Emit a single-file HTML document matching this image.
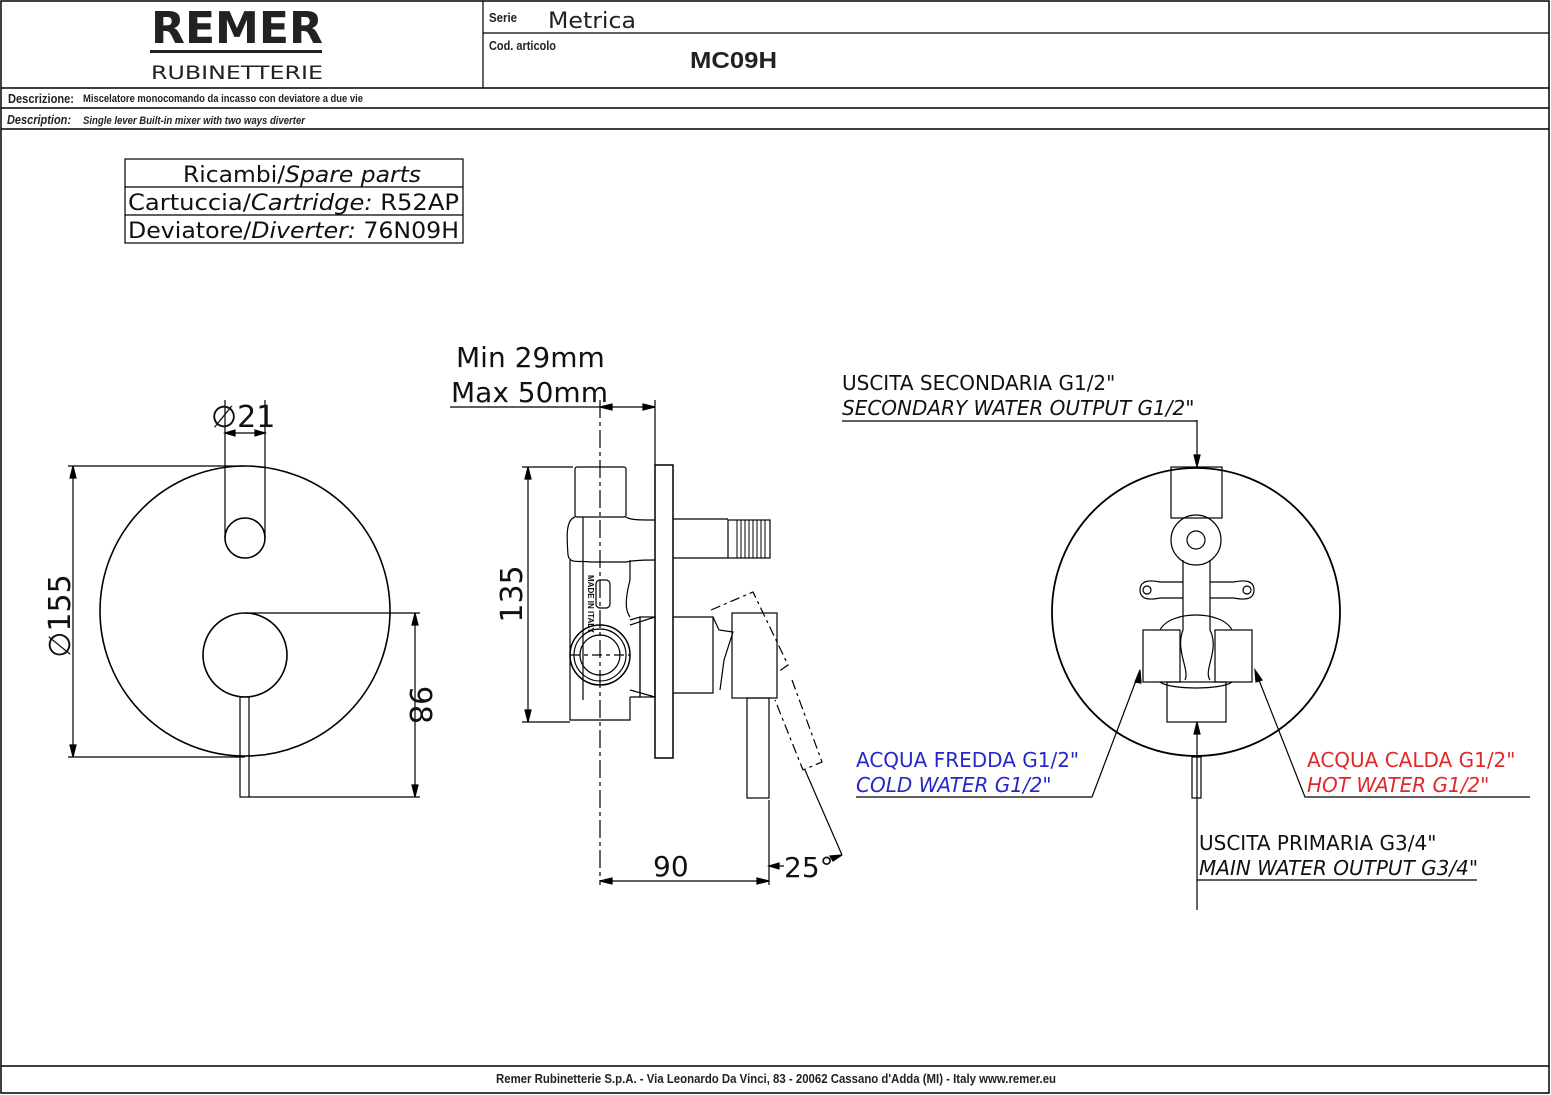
<!DOCTYPE html>
<html><head><meta charset="utf-8"><style>
html,body{margin:0;padding:0;background:#fff}
svg{display:block}
text{font-family:"Liberation Sans",sans-serif}
.n{font-family:"Liberation Sans Narrow","Liberation Sans",sans-serif;font-weight:bold}
.d{font-family:"DejaVu Sans","Liberation Sans",sans-serif}
</style></head><body>
<svg width="1551" height="1095" viewBox="0 0 1551 1095" xmlns="http://www.w3.org/2000/svg" fill="none" stroke="#000" stroke-width="1.2">
<rect x="1" y="1" width="1548" height="1092" stroke-width="1.5"/>
<line x1="483" y1="1" x2="483" y2="88"/>
<line x1="483" y1="33" x2="1549" y2="33"/>
<line x1="1" y1="88" x2="1549" y2="88" stroke-width="1.5"/>
<line x1="1" y1="108" x2="1549" y2="108" stroke-width="1.5"/>
<line x1="1" y1="129" x2="1549" y2="129" stroke-width="1.5"/>
<line x1="1" y1="1066" x2="1549" y2="1066" stroke-width="1.5"/>
<g fill="#222" stroke="none">
<text x="237" y="43" font-size="44" font-weight="bold" text-anchor="middle" textLength="172" lengthAdjust="spacingAndGlyphs" class="d">REMER</text>
<rect x="150" y="50" width="172" height="3"/>
<text x="237" y="79" font-size="19" text-anchor="middle" textLength="172" lengthAdjust="spacingAndGlyphs" class="d">RUBINETTERIE</text>
<text x="489" y="22" font-size="13" class="n" textLength="28" lengthAdjust="spacingAndGlyphs">Serie</text>
<text x="548" y="28" font-size="22" class="d" textLength="88" lengthAdjust="spacingAndGlyphs">Metrica</text>
<text x="489" y="50" font-size="13" class="n" textLength="67" lengthAdjust="spacingAndGlyphs">Cod. articolo</text>
<text x="690" y="68" font-size="23" font-weight="bold" textLength="87" lengthAdjust="spacingAndGlyphs">MC09H</text>
<text x="8" y="103" font-size="13" class="n" textLength="66" lengthAdjust="spacingAndGlyphs">Descrizione:</text>
<text x="83" y="102" font-size="11" class="n" textLength="280" lengthAdjust="spacingAndGlyphs">Miscelatore monocomando da incasso con deviatore a due vie</text>
<text x="7" y="124" font-size="13" class="n" font-style="italic" textLength="64" lengthAdjust="spacingAndGlyphs">Description:</text>
<text x="83" y="124" font-size="11" class="n" font-style="italic" textLength="222" lengthAdjust="spacingAndGlyphs">Single lever Built-in mixer with two ways diverter</text>
<text x="776" y="1083" font-size="13" class="n" text-anchor="middle" textLength="560" lengthAdjust="spacingAndGlyphs">Remer Rubinetterie S.p.A. - Via Leonardo Da Vinci, 83 - 20062 Cassano d'Adda (MI) - Italy www.remer.eu</text>
</g>
<rect x="125" y="159" width="338" height="84"/>
<line x1="125" y1="187" x2="463" y2="187"/>
<line x1="125" y1="215" x2="463" y2="215"/>
<g fill="#111" stroke="none" class="d" font-size="22">
<text x="183" y="182" class="d" textLength="238" lengthAdjust="spacingAndGlyphs">Ricambi/<tspan font-style="italic">Spare parts</tspan></text>
<text x="128" y="210" class="d" textLength="331" lengthAdjust="spacingAndGlyphs">Cartuccia/<tspan font-style="italic">Cartridge:</tspan> R52AP</text>
<text x="128" y="238" class="d" textLength="331" lengthAdjust="spacingAndGlyphs">Deviatore/<tspan font-style="italic">Diverter:</tspan>  76N09H</text>
</g>

<circle cx="245" cy="611" r="145" stroke-width="1.6"/>
<circle cx="245" cy="538" r="20" stroke-width="1.6"/>
<circle cx="245" cy="655" r="42" stroke-width="1.6"/>
<rect x="240" y="697" width="9" height="100"/>
<line x1="225" y1="400" x2="225" y2="538"/>
<line x1="265" y1="400" x2="265" y2="538"/>
<line x1="225" y1="433" x2="265" y2="433"/>
<path d="M225 433l10-3v6zM265 433l-10-3v6z" fill="#000"/>
<text x="211" y="427" font-size="30" fill="#111" stroke="none" class="d">∅21</text>
<line x1="68" y1="466" x2="245" y2="466"/>
<line x1="68" y1="757" x2="245" y2="757"/>
<line x1="73" y1="466" x2="73" y2="757"/>
<path d="M73 466l-3 12h6zM73 757l-3-12h6z" fill="#000"/>
<text transform="translate(70,616) rotate(-90)" font-size="30" fill="#111" stroke="none" text-anchor="middle" class="d">∅155</text>
<line x1="245" y1="613" x2="420" y2="613"/>
<line x1="249" y1="797" x2="420" y2="797"/>
<line x1="415" y1="613" x2="415" y2="797"/>
<path d="M415 613l-3 12h6zM415 797l-3-12h6z" fill="#000"/>
<text transform="translate(410,705) rotate(90)" font-size="30" fill="#111" stroke="none" text-anchor="middle" class="d">98</text>

<text x="456" y="367" font-size="28" fill="#111" stroke="none" class="d">Min 29mm</text>
<text x="451" y="402" font-size="28" fill="#111" stroke="none" class="d">Max 50mm</text>
<line x1="450" y1="407" x2="655" y2="407"/>
<path d="M600 407l12-3v6zM655 407l-12-3v6z" fill="#000"/>
<line x1="655" y1="400" x2="655" y2="465"/>
<line x1="600" y1="400" x2="600" y2="885" stroke-dasharray="18 4 4 4"/>
<line x1="570" y1="655" x2="630" y2="655" stroke-dasharray="10 4 4 4"/>
<rect x="655" y="465" width="18" height="293" stroke-width="1.5"/>
<rect x="575" y="467" width="51" height="50" rx="2"/>
<path d="M575 517 C565 520 567 540 568 555 C570 565 580 560 590 562 L626 562 C635 560 645 560 655 560 M626 517 C630 520 640 520 655 520"/>
<path d="M570 560 L570 720 L630 720 L630 697 M630 560 L630 580 C625 600 625 610 630 617"/>
<line x1="583" y1="517" x2="583" y2="700"/>
<rect x="596" y="580" width="14" height="28" rx="4"/>
<text transform="translate(588,575) rotate(90)" font-size="8" fill="#111" stroke="none" font-weight="bold">MADE IN ITALY</text>
<circle cx="600" cy="655" r="30" stroke-width="1.5"/>
<circle cx="600" cy="655" r="26"/>
<circle cx="600" cy="655" r="20"/>
<path d="M630 620 L640 617 L640 697 L630 697 M630 625 L655 617 M630 690 L655 697" />
<rect x="640" y="617" width="15" height="80"/>
<line x1="673" y1="519" x2="728" y2="519"/><line x1="673" y1="558" x2="728" y2="558"/>
<rect x="728" y="520" width="42" height="38"/>
<g stroke-width="1">
<line x1="737" y1="520" x2="737" y2="558"/><line x1="741" y1="520" x2="741" y2="558"/><line x1="745" y1="520" x2="745" y2="558"/><line x1="749" y1="520" x2="749" y2="558"/><line x1="753" y1="520" x2="753" y2="558"/><line x1="757" y1="520" x2="757" y2="558"/><line x1="761" y1="520" x2="761" y2="558"/><line x1="765" y1="520" x2="765" y2="558"/>
</g>
<path d="M673 617 L713 617 L713 693 L673 693"/>
<path d="M713 617 L719 630 L733 632 L724 660 L720 690"/>
<rect x="732" y="613" width="45" height="85"/>
<rect x="747" y="698" width="22" height="100"/>
<path d="M711 610 L753 592 L788 665 L778 672 M792 680 L822 762 L803 770 L775 700" stroke-dasharray="10 4 3 4"/>
<line x1="805" y1="770" x2="842" y2="855"/>
<line x1="769" y1="800" x2="769" y2="885"/>
<line x1="600" y1="881" x2="769" y2="881"/>
<path d="M600 881l12-3v6zM769 881l-12-3v6z" fill="#000"/>
<text x="653" y="876" font-size="28" fill="#111" stroke="none" class="d">90</text>
<line x1="769" y1="866" x2="784" y2="866"/>
<path d="M769 866l10-3v6z" fill="#000"/>
<path d="M842 855l-12 1 3 5z" fill="#000"/>
<text x="784" y="877" font-size="28" fill="#111" stroke="none" class="d">25°</text>
<line x1="528" y1="467" x2="528" y2="722"/>
<line x1="522" y1="467" x2="573" y2="467"/><line x1="522" y1="722" x2="570" y2="722"/>
<path d="M528 467l-3 12h6zM528 722l-3-12h6z" fill="#000"/>
<text transform="translate(522,594) rotate(-90)" font-size="30" fill="#111" stroke="none" text-anchor="middle" class="d">135</text>

<circle cx="1196" cy="612" r="144" stroke-width="1.8"/>
<rect x="1171" y="467" width="51" height="51"/>
<circle cx="1196" cy="540" r="25"/>
<circle cx="1196" cy="540" r="9"/>
<path d="M1183 560 L1183 630 C1175 650 1190 670 1185 680 M1210 560 L1210 630 C1220 650 1203 670 1210 680"/>
<path d="M1140 590 C1140 580 1150 580 1160 582 L1183 582 M1183 598 L1160 598 C1150 600 1140 600 1140 590"/>
<path d="M1254 590 C1254 580 1244 580 1234 582 L1210 582 M1210 598 L1234 598 C1244 600 1254 600 1254 590"/>
<circle cx="1147" cy="590" r="4"/><circle cx="1247" cy="590" r="4"/>
<path d="M1160 630 C1170 610 1222 610 1232 630"/>
<rect x="1143" y="630" width="37" height="52"/>
<rect x="1215" y="630" width="37" height="52"/>
<path d="M1160 682 C1170 690 1222 690 1232 682"/>
<rect x="1167" y="682" width="59" height="40"/>
<rect x="1192" y="757" width="9" height="41"/>
<line x1="1197" y1="420" x2="1197" y2="467"/>
<line x1="1197" y1="722" x2="1197" y2="910"/>
<path d="M1197 467l-3-12h6zM1197 722l-3 12h6z" fill="#000"/>
<line x1="842" y1="421" x2="1197" y2="421"/>
<text x="842" y="390" font-size="20" fill="#111" stroke="none" class="d">USCITA SECONDARIA G1/2"</text>
<text x="842" y="415" font-size="20" fill="#111" stroke="none" class="d" font-style="italic">SECONDARY WATER OUTPUT G1/2"</text>
<path d="M856 797 L1092 797 L1140 670"/>
<path d="M1140 670l-5 12 6 1z" fill="#000"/>
<text x="856" y="767" font-size="20" fill="#2727c8" stroke="none" class="d">ACQUA FREDDA G1/2"</text>
<text x="856" y="792" font-size="20" fill="#2727c8" stroke="none" class="d" font-style="italic">COLD WATER G1/2"</text>
<path d="M1530 797 L1305 797 L1255 670"/>
<path d="M1255 670l1 12 6-2z" fill="#000"/>
<text x="1307" y="767" font-size="20" fill="#e0272b" stroke="none" class="d">ACQUA CALDA G1/2"</text>
<text x="1307" y="792" font-size="20" fill="#e0272b" stroke="none" class="d" font-style="italic">HOT WATER G1/2"</text>
<line x1="1197" y1="880" x2="1477" y2="880"/>
<text x="1199" y="850" font-size="20" fill="#111" stroke="none" class="d">USCITA PRIMARIA G3/4"</text>
<text x="1199" y="875" font-size="20" fill="#111" stroke="none" class="d" font-style="italic">MAIN WATER OUTPUT G3/4"</text>
</svg>
</body></html>
